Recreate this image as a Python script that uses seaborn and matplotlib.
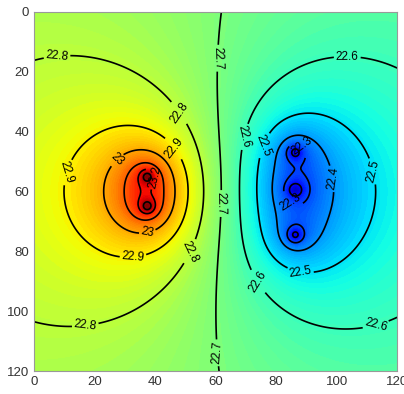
import numpy as np
import matplotlib
matplotlib.use("Agg")
import matplotlib.pyplot as plt
import seaborn as sns

# warm spots (left) and cold spots (right), positions
hot_x = [37.5, 37.5]
hot_y = [55.0, 65.0]
cold_x = [86.3, 86.3, 86.3]
cold_y = [46.8, 59.5, 74.6]

# source strength, depth and decay exponent of the broad part of each group
hot_strength, hot_depth, hot_power = 2.054, 3.349, 0.2171
cold_strength, cold_depth, cold_power = 2.265, 3.445, 0.2145
offset = 0.0967
base_level = 22.7
# small local peaks right at each spot
hot_spike = [0.12, 0.12]
cold_spike = [0.12, 0.12, 0.12]
hot_spike_width = 1.5
cold_spike_width = 1.8

contour_levels = [22.0, 22.1, 22.2, 22.3, 22.4, 22.5, 22.6, 22.7, 22.8, 22.9,
                  23.0, 23.1, 23.2, 23.3, 23.4, 23.5]
ticks = [0, 20, 40, 60, 80, 100, 120]

sns.set_style("white")
plt.rcParams['font.family'] = ['Liberation Sans', 'DejaVu Sans']

xs = np.linspace(0, 120, 481)
X, Y = np.meshgrid(xs, xs)
T = np.full_like(X, base_level + offset)
for sx, sy, a in zip(hot_x, hot_y, hot_spike):
    r2 = (X - sx) ** 2 + (Y - sy) ** 2
    T += hot_strength / len(hot_x) * (r2 + hot_depth ** 2) ** (-hot_power / 2)
    T += a * np.exp(-r2 / (2 * hot_spike_width ** 2))
for sx, sy, a in zip(cold_x, cold_y, cold_spike):
    r2 = (X - sx) ** 2 + (Y - sy) ** 2
    T -= cold_strength / len(cold_x) * (r2 + cold_depth ** 2) ** (-cold_power / 2)
    T -= a * np.exp(-r2 / (2 * cold_spike_width ** 2))

cmap = matplotlib.colormaps["jet"]
vmin, vmax = 22.05, 23.35

fig = plt.figure(figsize=(4.04, 3.94), dpi=100)
ax = fig.add_axes([0.084, 0.058, 0.899, 0.912])
ax.contourf(X, Y, np.clip(T, vmin, vmax), levels=np.linspace(vmin, vmax, 120),
            cmap=cmap, vmin=vmin, vmax=vmax)
cs = ax.contour(X, Y, T, levels=contour_levels, colors='black', linewidths=1.2)

label_pos = [(8, 19), (49, 33), (51.6, 80), (17, 105),
             (47.6, 44.5), (9, 53), (33, 85),
             (27, 49), (38, 76), (41, 55),
             (61, 15.5), (61, 64), (59, 114),
             (103.5, 16.7), (69.8, 41.8), (74.7, 89.6), (113, 104.7),
             (75.7, 44.5), (111, 53.5), (88, 87),
             (97, 56), (83, 66), (89, 44)]
ax.clabel(cs, fmt='%g', fontsize=8.5, inline=True, inline_spacing=2, manual=label_pos)

ax.set_xlim(0, 120)
ax.set_ylim(120, 0)
ax.set_xticks(ticks)
ax.set_yticks(ticks)
ax.tick_params(direction='in', length=3.5, width=0.6, labelsize=9.5, colors='#333333',
               top=True, right=True)
for s in ax.spines.values():
    s.set_color('#999999')
    s.set_linewidth(0.8)

fig.savefig("out.png", dpi=100)
